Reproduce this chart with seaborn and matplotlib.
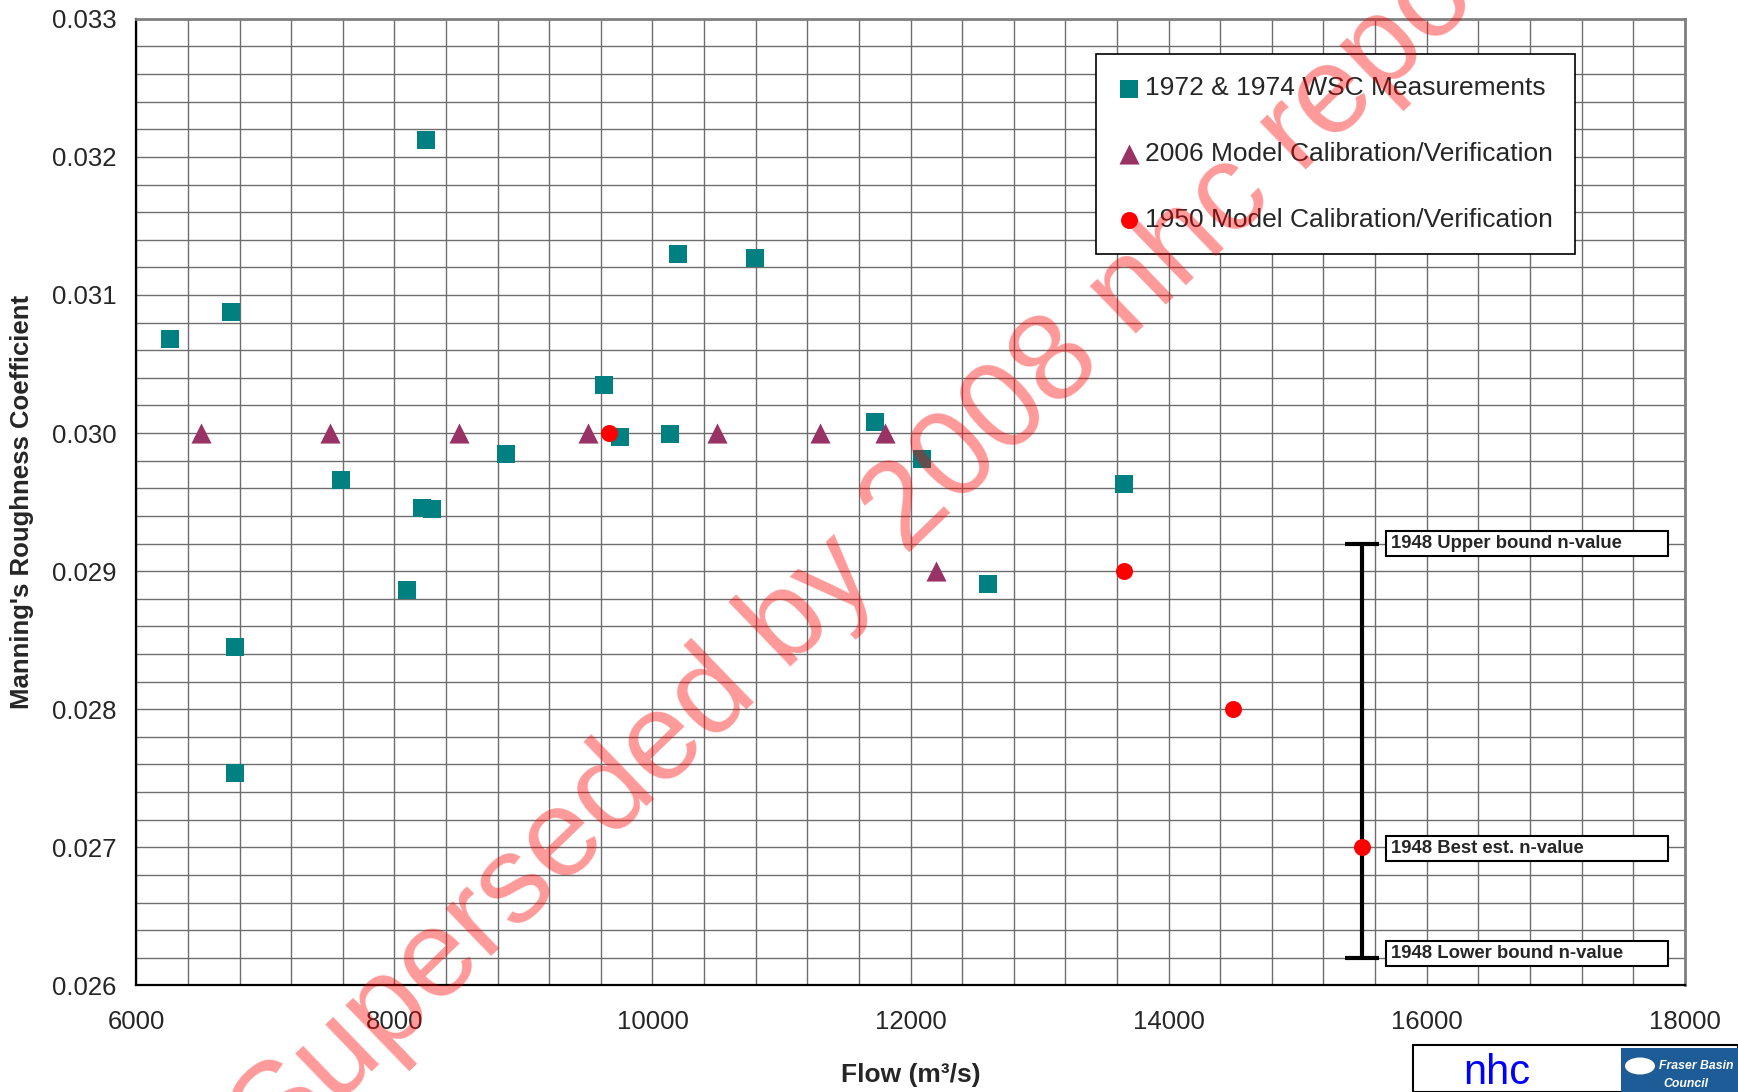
import matplotlib

matplotlib.use("Agg")
import matplotlib.pyplot as plt
import matplotlib.patches as mpatches
import numpy as np
import pandas as pd
import seaborn as sns
from matplotlib.ticker import FormatStrFormatter, MultipleLocator

# 1972 & 1974 WSC measurements
wsc_flow = [6260, 6735, 8243, 10200, 10795, 9627, 9752, 10135, 11722, 12091,
            8862, 7588, 8213, 8295, 8095, 6766, 6766, 12598, 13655]
wsc_n = [0.03068, 0.03088, 0.03212, 0.03130, 0.03127, 0.03035, 0.02997, 0.02999,
         0.03008, 0.02981, 0.02985, 0.02966, 0.02946, 0.02945, 0.02886, 0.02845,
         0.02754, 0.02891, 0.02963]

# 2006 model calibration / verification
m2006_flow = [6500, 7500, 8500, 9500, 10500, 11300, 11800, 12200]
m2006_n = [0.030, 0.030, 0.030, 0.030, 0.030, 0.030, 0.030, 0.029]

# 1950 model calibration / verification
m1950_flow = [9660, 13655, 14500, 15500]
m1950_n = [0.030, 0.029, 0.028, 0.027]

# 1948 n-value range
bound_flow = 15500
bound_best = 0.027
bound_upper = 0.0292
bound_lower = 0.0262
bound_labels = ["1948 Upper bound n-value", "1948 Best est. n-value", "1948 Lower bound n-value"]
bound_label_y = [0.0292, 0.02699, 0.02623]

series_names = [
    "1972 & 1974 WSC Measurements",
    "2006 Model Calibration/Verification",
    "1950 Model Calibration/Verification",
]

sns.set_style("white")
plt.rcParams["font.family"] = ["Liberation Sans", "DejaVu Sans"]

W, H = 1738, 1092
fig = plt.figure(figsize=(W / 100, H / 100), dpi=100)
ax = fig.add_axes([136.3 / W, 1 - 985.4 / H, (1684.8 - 136.3) / W, (985.4 - 18.8) / H])

wsc_df = pd.DataFrame({"flow": wsc_flow, "n": wsc_n})
m2006_df = pd.DataFrame({"flow": m2006_flow, "n": m2006_n})
m1950_df = pd.DataFrame({"flow": m1950_flow, "n": m1950_n})

sns.scatterplot(data=wsc_df, x="flow", y="n", marker="s", s=180, color="#008080",
                linewidth=0, label=series_names[0], ax=ax, zorder=4)
sns.scatterplot(data=m2006_df, x="flow", y="n", marker="^", s=210, color="#993366",
                linewidth=0, label=series_names[1], ax=ax, zorder=4)

ax.errorbar([bound_flow], [bound_best],
            yerr=[[bound_best - bound_lower], [bound_upper - bound_best]],
            fmt="none", ecolor="black", elinewidth=3, capsize=12, capthick=3, zorder=3)

sns.scatterplot(data=m1950_df, x="flow", y="n", marker="o", s=150, color="#ff0000",
                linewidth=0, label=series_names[2], ax=ax, zorder=5)

# boxed labels for the 1948 range
box_h = 0.000185
for label, yv in zip(bound_labels, bound_label_y):
    ax.add_patch(mpatches.Rectangle((15682, yv - box_h / 2), 17873 - 15682, box_h,
                                    facecolor="white", edgecolor="black", linewidth=1.5, zorder=6))
    ax.text(15722, yv, label, fontsize=13.3, fontweight="bold", ha="left", va="center", zorder=7)

ax.set_xlim(6000, 18000)
ax.set_ylim(0.026, 0.033)
ax.xaxis.set_major_locator(MultipleLocator(2000))
ax.xaxis.set_minor_locator(MultipleLocator(400))
ax.yaxis.set_major_locator(MultipleLocator(0.001))
ax.yaxis.set_minor_locator(MultipleLocator(0.0002))
ax.yaxis.set_major_formatter(FormatStrFormatter("%.3f"))
ax.xaxis.set_major_formatter(FormatStrFormatter("%d"))

ax.grid(which="both", color="#6e6e6e", linewidth=1)
ax.set_axisbelow(True)

ax.tick_params(axis="both", which="major", direction="out", length=5, width=1.3,
               labelsize=18.5, color="black")
ax.tick_params(axis="y", which="major", pad=9)
ax.tick_params(axis="x", which="major", pad=13)
ax.tick_params(which="minor", length=0)

for side in ["left", "bottom"]:
    ax.spines[side].set_color("black")
    ax.spines[side].set_linewidth(1.6)
for side in ["top", "right"]:
    ax.spines[side].set_color("#808080")
    ax.spines[side].set_linewidth(2)

ax.set_xlabel("Flow (m³/s)", fontsize=19, fontweight="bold", va="center")
ax.set_ylabel("Manning's Roughness Coefficient", fontsize=18.5, fontweight="bold", va="center")
ax.xaxis.set_label_coords(0.5, -0.093)
ax.yaxis.set_label_coords(-0.0738, 0.5)

leg = ax.legend(loc="upper left", bbox_to_anchor=(1096 / W, 1 - 54 / H),
                bbox_transform=fig.transFigure, fontsize=19, frameon=True, fancybox=False,
                framealpha=1, edgecolor="black", borderpad=0.85, labelspacing=1.58,
                handlelength=0.8, handletextpad=0.2, borderaxespad=0)
leg.get_frame().set_linewidth(1.2)
leg.set_zorder(8)

# logo strip at the bottom right
fig.patches.append(mpatches.Rectangle((1413 / W, 0), (W - 1413) / W, (H - 1045) / H,
                                      transform=fig.transFigure, facecolor="white",
                                      edgecolor="black", linewidth=1.5))
fig.text(1497 / W, 1 - 1073 / H, "nhc", fontsize=30, color="#0000ff", ha="center", va="center")
fig.patches.append(mpatches.Rectangle((1621 / W, 0), (W - 1621) / W, (H - 1048) / H,
                                      transform=fig.transFigure, facecolor="#1d5c96",
                                      edgecolor="none"))
fig.text(1659 / W, 1 - 1066 / H, "Fraser Basin", fontsize=8.8, color="white",
         fontweight="bold", style="italic", ha="left", va="center")
fig.text(1686 / W, 1 - 1084 / H, "Council", fontsize=8.8, color="white",
         fontweight="bold", style="italic", ha="center", va="center")
fig.patches.append(mpatches.Ellipse((1640 / W, 1 - 1066 / H), 30 / W, 17 / H,
                                    transform=fig.transFigure, facecolor="white",
                                    edgecolor="none"))

# watermark
fig.text(0.508, 0.512, "Superseded by 2008 nhc report", fontsize=90, color="#ff0000",
         alpha=0.4, rotation=44, rotation_mode="anchor", ha="center", va="center", zorder=20)

fig.savefig("out.png", dpi=100)
plt.close(fig)
